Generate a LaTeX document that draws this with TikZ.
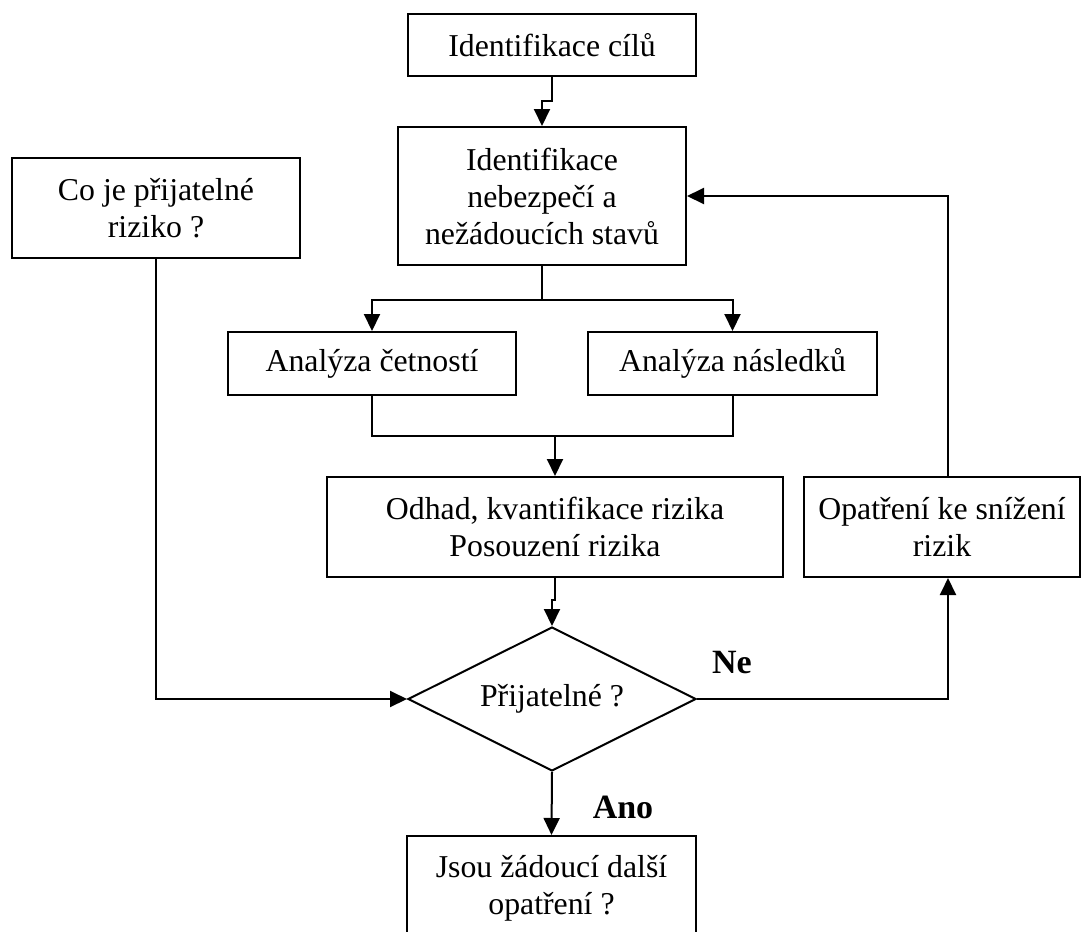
\documentclass[tikz,border=0pt]{standalone}
\usepackage{fontspec}
\setmainfont{Liberation Serif}
\usetikzlibrary{arrows.meta,shapes.geometric,calc}
\begin{document}
\begin{tikzpicture}[x=0.5pt,y=-0.5pt,
  line width=1pt,
  box/.style={draw,rectangle,inner sep=0pt,align=center,font=\fontsize{15.9}{18.5}\selectfont},
  dec/.style={draw,diamond,aspect=2,inner sep=0pt,minimum width=144pt,minimum height=72pt,font=\fontsize{15.9}{18.5}\selectfont},
  lbl/.style={font=\fontsize{17}{20}\selectfont\bfseries,inner sep=0pt},
  arr/.style={-{Triangle[width=8pt,length=8.5pt]}}]
\useasboundingbox (0,0) rectangle (1082,932);
\node[box,minimum width=144pt,minimum height=31pt] (cile) at (552,45) {Identifikace cílů};
\node[box,minimum width=144pt,minimum height=69pt] (ident) at (542,196) {Identifikace\\nebezpečí a\\nežádoucích stavů};
\node[box,minimum width=144pt,minimum height=50pt] (co) at (156,208) {Co je přijatelné\\riziko ?};
\node[box,minimum width=144pt,minimum height=31.5pt] (cet) at (372,363.5) {Analýza četností};
\node[box,minimum width=144.5pt,minimum height=31.5pt] (nasl) at (732.5,363.5) {Analýza následků};
\node[box,minimum width=228pt,minimum height=50pt] (odhad) at (555,527) {Odhad, kvantifikace rizika\\Posouzení rizika};
\node[box,minimum width=138pt,minimum height=50pt] (opat) at (942,527) {Opatření ke snížení\\rizik};
\node[dec] (dia) at (552,699) {Přijatelné ?};
\node[box,minimum width=144.5pt,minimum height=52pt] (jsou) at (551.5,888) {Jsou žádoucí další\\opatření ?};
\node[lbl] (ne) at (732,663) {Ne};
\node[lbl] (ano) at (623,807) {Ano};
\coordinate (m) at (555,436);
% connectors
\draw[arr] (cile.south) -- ++(0,24) -| (ident.north);
\draw[arr] (ident.south) -- ++(0,34) -| (cet.north);
\draw[arr] (ident.south) -- ++(0,34) -| (nasl.north);
\draw (cet.south) |- (m) -| (nasl.south);
\draw[arr] (m) -- (odhad.north);
\draw[arr] (odhad.south) -- ++(0,22) -| (dia.north);
\draw[arr] (co.south) |- (dia.west);
\draw[arr] (dia.east) -| ([xshift=3pt]opat.south);
\draw[arr] ([xshift=3pt]opat.north) |- (ident.east);
\draw[arr] (dia.south) -- (jsou.north);
\end{tikzpicture}
\end{document}
